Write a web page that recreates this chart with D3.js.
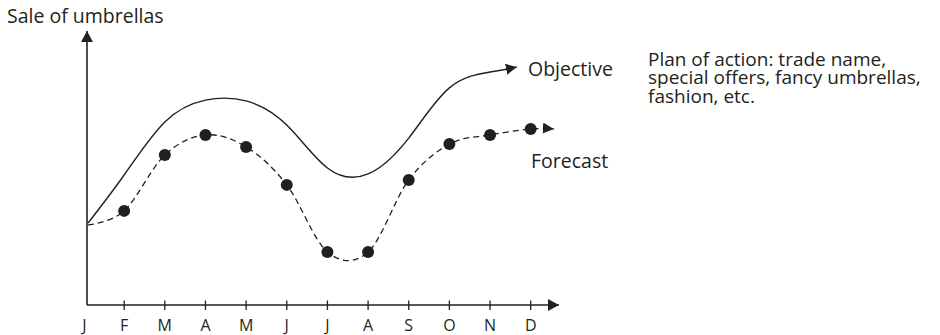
<!DOCTYPE html>
<html>
<head>
<meta charset="utf-8">
<script src="https://cdn.jsdelivr.net/npm/d3@7/dist/d3.min.js"></script>
<style>
  body { margin: 0; background: #fff; }
  text { font-family: "Open Sans", sans-serif; fill: #231f20; }
</style>
</head>
<body>
<div id="chart"></div>
<script>
// month labels on the x axis
var months = ["J", "F", "M", "A", "M", "J", "J", "A", "S", "O", "N", "D"];

// forecast sales, one value per month (dotted markers)
var forecast = [30.8, 36.2, 57.7, 65.4, 60.8, 46.2, 20.4, 20.4, 48.1, 61.9, 65.4, 67.7];
// where the forecast arrow ends: [month position, value]
var forecastEnd = [11.57, 67.7];

// objective curve, J..N, then the arrow tip
var objective = [31.5, 50.0, 70.4, 78.8, 78.5, 69.2, 52.7, 50.4, 64.2, 83.5, 89.6];
var objectiveEnd = [10.66, 91.5];

var planLines = ["Plan of action: trade name,", "special offers, fancy umbrellas,", "fashion, etc."];

var width = 940, height = 335;
var ink = "#231f20";

var svg = d3.select("#chart").append("svg")
    .attr("width", width)
    .attr("height", height);

var x = d3.scaleLinear().domain([0, 11]).range([83.5, 530.7]);
var y = d3.scaleLinear().domain([0, 100]).range([305, 45]);

var originX = 87, originY = y(0);

// arrow heads
var defs = svg.append("defs");
function arrow(id, len, half) {
    defs.append("marker")
        .attr("id", id)
        .attr("markerUnits", "userSpaceOnUse")
        .attr("viewBox", "0 " + (-half) + " " + len + " " + (2 * half))
        .attr("refX", len)
        .attr("refY", 0)
        .attr("markerWidth", len)
        .attr("markerHeight", 2 * half)
        .attr("orient", "auto")
        .append("path")
        .attr("d", "M0," + (-half) + "L" + len + ",0L0," + half + "Z")
        .attr("fill", ink);
}
arrow("axis-arrow", 11, 6);
arrow("line-arrow", 11, 5.5);

// axes
svg.append("line")
    .attr("x1", originX).attr("y1", originY)
    .attr("x2", originX).attr("y2", 31)
    .attr("stroke", ink).attr("stroke-width", 1.6)
    .attr("marker-end", "url(#axis-arrow)");

svg.append("line")
    .attr("x1", originX).attr("y1", originY)
    .attr("x2", 559).attr("y2", originY)
    .attr("stroke", ink).attr("stroke-width", 1.6)
    .attr("marker-end", "url(#axis-arrow)");

svg.selectAll(".tick")
    .data(months.slice(1))
    .enter().append("line")
    .attr("class", "tick")
    .attr("x1", function(d, i) { return x(i + 1); })
    .attr("x2", function(d, i) { return x(i + 1); })
    .attr("y1", originY - 4.5)
    .attr("y2", originY + 5)
    .attr("stroke", ink).attr("stroke-width", 1.3);

svg.selectAll(".month")
    .data(months)
    .enter().append("text")
    .attr("class", "month")
    .attr("x", function(d, i) { return x(i) + (i === 0 ? 1 : 0); })
    .attr("y", 331)
    .attr("text-anchor", "middle")
    .style("font-size", "16px")
    .text(function(d) { return d; });

// curves start on the vertical axis
function px(i) { return i === 0 ? originX + 1 : x(i); }

var line = d3.line()
    .x(function(d) { return d[0]; })
    .y(function(d) { return d[1]; });

var objectivePts = objective.map(function(v, i) { return [px(i), y(v)]; });
objectivePts.push([x(objectiveEnd[0]), y(objectiveEnd[1])]);

svg.append("path")
    .attr("d", line.curve(d3.curveNatural)(objectivePts))
    .attr("fill", "none")
    .attr("stroke", ink)
    .attr("stroke-width", 1.4)
    .attr("marker-end", "url(#line-arrow)");

var forecastPts = forecast.map(function(v, i) { return [px(i), y(v)]; });
forecastPts.push([x(forecastEnd[0]), y(forecastEnd[1])]);

svg.append("path")
    .attr("d", line.curve(d3.curveCardinal.tension(0))(forecastPts))
    .attr("fill", "none")
    .attr("stroke", ink)
    .attr("stroke-width", 1.3)
    .attr("stroke-dasharray", "6,4")
    .attr("marker-end", "url(#line-arrow)");

svg.selectAll(".dot")
    .data(forecast.slice(1))
    .enter().append("circle")
    .attr("class", "dot")
    .attr("cx", function(d, i) { return x(i + 1); })
    .attr("cy", function(d) { return y(d); })
    .attr("r", 6)
    .attr("fill", ink);

// labels
svg.append("text")
    .attr("x", 7).attr("y", 23)
    .style("font-size", "19.5px")
    .text("Sale of umbrellas");

svg.append("text")
    .attr("x", 528).attr("y", 76)
    .style("font-size", "19.5px")
    .text("Objective");

svg.append("text")
    .attr("x", 531).attr("y", 168)
    .style("font-size", "19.5px")
    .text("Forecast");

svg.append("text")
    .attr("x", 648).attr("y", 66)
    .style("font-size", "19px")
    .selectAll("tspan")
    .data(planLines)
    .enter().append("tspan")
    .attr("x", 648)
    .attr("dy", function(d, i) { return i === 0 ? 0 : 18.3; })
    .text(function(d) { return d; });
</script>
</body>
</html>
